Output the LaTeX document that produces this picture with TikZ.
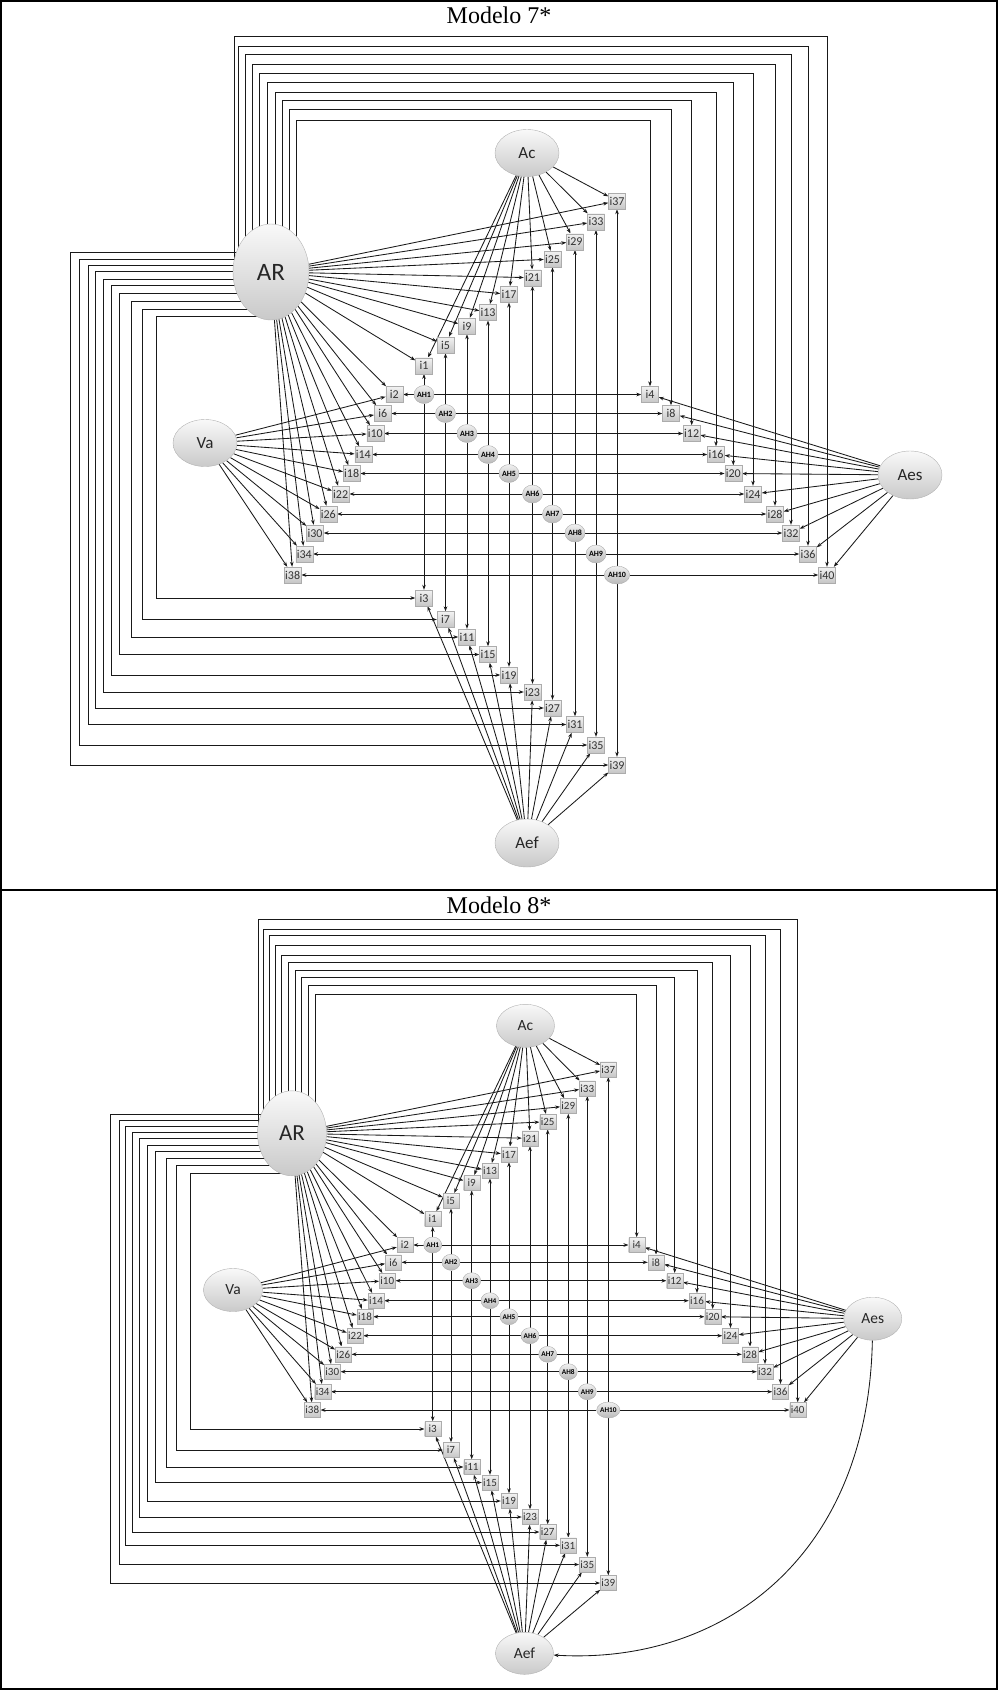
\documentclass[tikz,border=0pt]{standalone}
\usepackage{fontspec}
\setmainfont{Liberation Serif}
\newfontfamily\labfont{Carlito}
\usetikzlibrary{arrows.meta,shapes.geometric,calc}
\pgfdeclarelayer{bg}
\pgfsetlayers{bg,main}
\begin{document}
\begin{tikzpicture}[x=1pt,y=-1pt,
  lat/.style={ellipse, draw=gray!60, top color=gray!5, bottom color=gray!42, inner sep=0pt, text=black!85},
  ibox/.style={rectangle, draw=gray!65, top color=gray!10, bottom color=gray!45, inner sep=0.5pt, text=black!80},
  ahn/.style={ellipse, draw=gray!65, top color=gray!12, bottom color=gray!55, inner sep=0pt},
  arr/.style={draw=black!90, line width=0.85pt, -{Stealth[length=5pt,width=3.6pt]}},
  ttl/.style={font=\fontsize{24}{24}\selectfont, anchor=base}
]
\useasboundingbox (0,0) rectangle (998,1690);
\draw[line width=1.3pt] (1,1) rectangle (997,1689);
\draw[line width=1.3pt] (1,890) -- (997,890);

% ================= Modelo 7 =================
\node[ttl] (T7) at (499,23) {Modelo 7*};
\begin{scope}[font=\labfont\fontsize{17}{17}\selectfont]
\node[lat, minimum width=76pt, minimum height=96pt, font=\labfont\fontsize{25}{25}\selectfont] (TAR) at (271,272) {AR};
\node[lat, minimum width=64pt, minimum height=47pt] (TAc) at (527,153) {Ac};
\node[lat, minimum width=64pt, minimum height=47pt] (TVa) at (205,443) {Va};
\node[lat, minimum width=64pt, minimum height=48pt] (TAes) at (910,475) {Aes};
\node[lat, minimum width=64pt, minimum height=48pt] (TAef) at (527,843) {Aef};
\end{scope}
\foreach \k/\x/\y in {1/424/394.5,2/445.5/413.5,3/467/433.5,4/488/454.5,5/509/473.5,6/532.5/494,7/552.5/514,8/575/533,9/596/554,10/617/575}
  \node[ahn, minimum width=20pt, minimum height=18pt, font=\labfont\bfseries\fontsize{8}{8}\selectfont] (TAH\k) at (\x,\y) {AH\k};
\foreach \n/\x/\y in {1/424/365.7,5/445.5/345,9/467/326,13/488/312.3,17/509/294.3,21/532.5/277.7,25/552.5/259,29/575/241.7,33/596/221.7,37/617/201,
  2/394.3/394.5,6/382.7/413.5,10/375.3/433.5,14/363.3/454.5,18/351.7/473.5,22/340.7/494,26/328.3/514,30/315/533,34/304.3/554,38/292.7/575,
  4/650/394.5,8/671/413.5,12/691.7/433.5,16/716/454.5,20/733.3/473.5,24/753/494,28/775/514,32/791/533,36/808/554,40/827/575,
  3/424/598,7/445.5/619.5,11/467/637,15/488/654.5,19/509/675,23/532.5/692,27/552.5/708,31/575/724.5,35/596/745,39/617/765}
  \node[ibox, minimum width=17pt, minimum height=16pt, font=\labfont\fontsize{12}{12}\selectfont] (Ti\n) at (\x,\y) {i\n};

% ================= Modelo 8 =================
\node[ttl] (T8) at (499,913) {Modelo 8*};
\begin{scope}[font=\labfont\fontsize{15.5}{15.5}\selectfont]
\node[lat, minimum width=69pt, minimum height=85pt, font=\labfont\fontsize{23}{23}\selectfont] (BAR) at (292,1133.3) {AR};
\node[lat, minimum width=58pt, minimum height=43pt] (BAc) at (525.5,1025.8) {Ac};
\node[lat, minimum width=59pt, minimum height=43pt] (BVa) at (233,1290) {Va};
\node[lat, minimum width=58pt, minimum height=43pt] (BAes) at (872.8,1318.7) {Aes};
\node[lat, minimum width=58pt, minimum height=42pt] (BAef) at (524.5,1653.3) {Aef};
\end{scope}
\foreach \k/\x/\y in {1/432.7/1245,2/451/1262.3,3/471.7/1280.7,4/490/1300.7,5/509/1316.7,6/530/1335.7,7/547.7/1354.3,8/568.3/1371.7,9/587.3/1391.7,10/608.3/1410}
  \node[ahn, minimum width=18pt, minimum height=16pt, font=\labfont\bfseries\fontsize{7.3}{7.3}\selectfont] (BAH\k) at (\x,\y) {AH\k};
\foreach \n/\x/\y in {1/432.7/1219,5/451/1200.7,9/471.7/1182.7,13/490/1170.7,17/509/1154.3,21/530/1138.3,25/547.7/1121.7,29/568.3/1106,33/587.3/1088.3,37/608.3/1069.3,
  2/405/1245,6/393.3/1262.3,10/387.3/1280.7,14/376/1300.7,18/365/1316.7,22/355/1335.7,26/343.3/1354.3,30/332.3/1371.7,34/322.7/1391.7,38/312.3/1410,
  4/636.7/1245,8/656/1262.3,12/674.7/1280.7,16/697/1300.7,20/712.7/1316.7,24/730.5/1335.7,28/750/1354.3,32/765/1371.7,36/780.5/1391.7,40/797.7/1410,
  3/432.7/1429,7/451/1450,11/471.7/1467,15/490/1482.5,19/509/1501,23/530/1517,27/547.7/1532,31/568.3/1545.3,35/587.3/1564.5,39/608.3/1583}
  \node[ibox, minimum width=16pt, minimum height=15pt, font=\labfont\fontsize{11}{11}\selectfont] (Bi\n) at (\x,\y) {i\n};

% ================= connectors =================
\begin{pgfonlayer}{bg}
\foreach \P in {T,B}{
  \foreach \k in {1,...,10}{
    \pgfmathtruncatemacro\iu{4*\k-3}
    \pgfmathtruncatemacro\il{4*\k-2}
    \pgfmathtruncatemacro\id{4*\k-1}
    \pgfmathtruncatemacro\ir{4*\k}
    \draw[arr] (\P AH\k) -- (\P i\iu);
    \draw[arr] (\P AH\k) -- (\P i\il);
    \draw[arr] (\P AH\k) -- (\P i\id);
    \draw[arr] (\P AH\k) -- (\P i\ir);
    \draw[arr] (\P AR) -- (\P i\iu);
    \draw[arr] (\P AR) -- (\P i\il);
    \draw[arr] (\P Ac) -- (\P i\iu);
    \draw[arr] (\P Va) -- (\P i\il);
    \draw[arr] (\P Aes) -- (\P i\ir);
    \draw[arr] (\P Aef) -- (\P i\id);
  }
}
% loops of AR, Modelo 7
\foreach \k/\tx/\ty/\ly/\lx in {1/296/120.7/316/156,2/289.6/109.7/309/142,3/282/100.4/301/131,4/275/92.2/293.3/119,5/267.3/82.3/285.7/111,
  6/259.7/73/279.3/103,7/252/64.7/271.7/95,8/245/54.9/265.3/88,9/238.5/46.6/259.3/79,10/234/36.8/252.7/70}{
  \pgfmathtruncatemacro\id{4*\k-1}
  \pgfmathtruncatemacro\ir{4*\k}
  \draw[arr] (TAR.center -| \tx,0) |- (Ti\ir |- 0,\ty) -- (Ti\ir);
  \draw[arr] (TAR.center |- 0,\ly) -| (\lx,0 |- Ti\id) -- (Ti\id);
}
% loops of AR, Modelo 8
\foreach \k/\tx/\ty/\ly/\lx in {1/315.7/994.3/1173.3/190,2/308.3/985.7/1165/176,3/301.7/977.3/1158.3/166,4/295/970/1151.7/155.7,5/288.3/962.7/1145/147.3,
  6/281/955/1138.3/139,7/275/945/1132.7/132.3,8/269.3/935.7/1126.7/125.7,9/263.3/929.3/1120/119,10/258.5/919.3/1114/110}{
  \pgfmathtruncatemacro\id{4*\k-1}
  \pgfmathtruncatemacro\ir{4*\k}
  \draw[arr] (BAR.center -| \tx,0) |- (Bi\ir |- 0,\ty) -- (Bi\ir);
  \draw[arr] (BAR.center |- 0,\ly) -| (\lx,0 |- Bi\id) -- (Bi\id);
}
\draw[arr] (BAes) .. controls (868,1560) and (720,1665) .. (BAef);
\end{pgfonlayer}
\end{tikzpicture}
\end{document}
